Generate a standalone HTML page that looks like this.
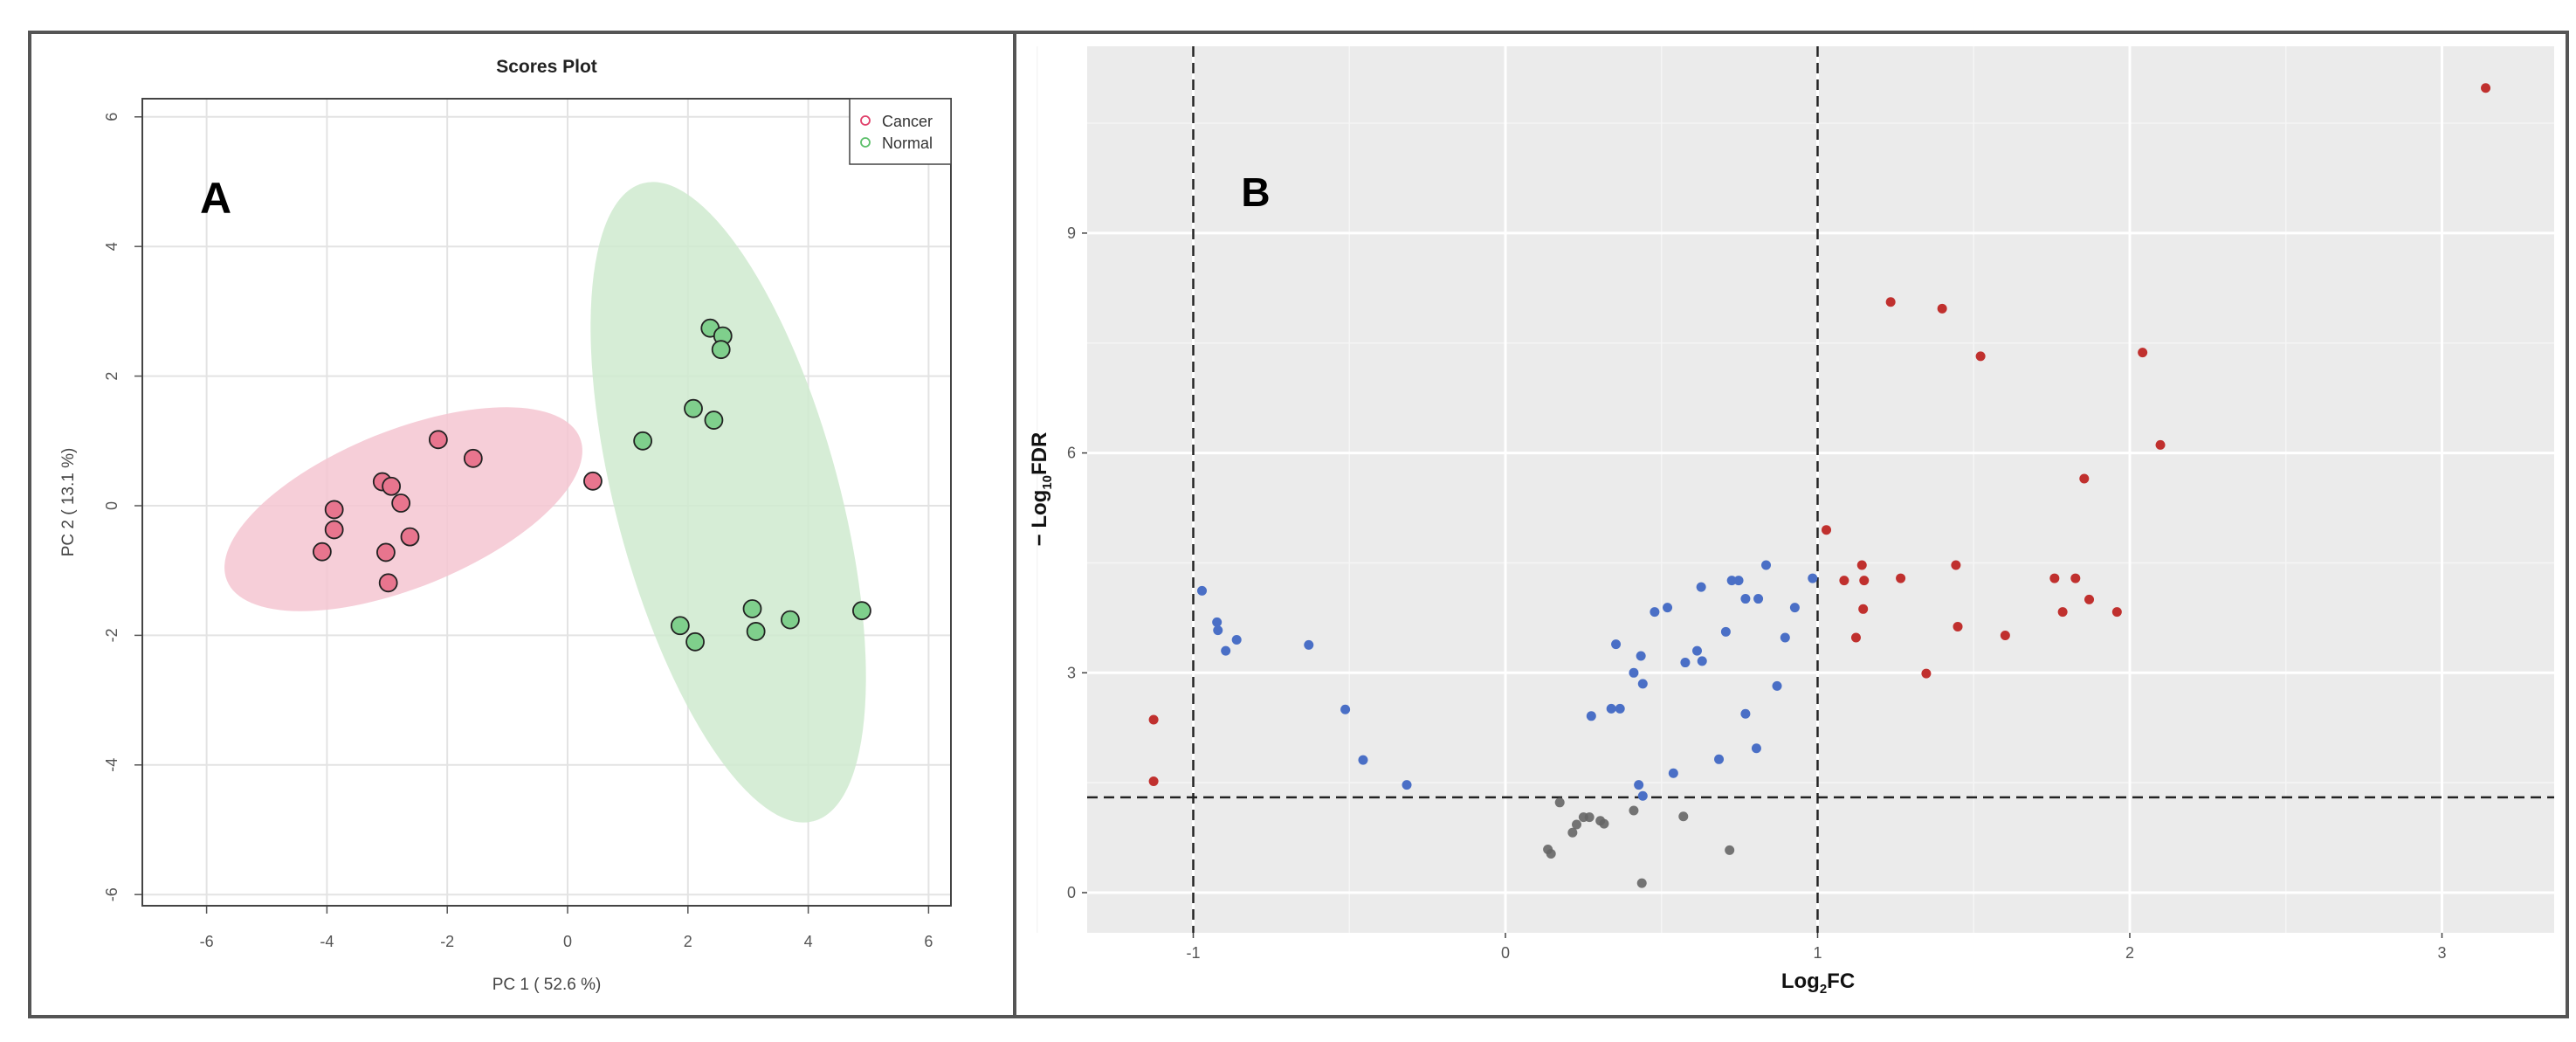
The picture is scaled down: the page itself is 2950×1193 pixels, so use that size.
<!DOCTYPE html>
<html><head><meta charset="utf-8"><style>
html,body{margin:0;padding:0;background:#fff;}
svg{display:block;font-family:"Liberation Sans",sans-serif;}
</style></head><body>
<svg id="fig" width="2950" height="1193" viewBox="0 0 2950 1193" xmlns="http://www.w3.org/2000/svg">
<rect x="0" y="0" width="2950" height="1193" fill="#fff"/>
<g id="left"></g>
<g id="right"></g>
<rect x="34" y="37" width="2906" height="1127" fill="none" stroke="#555" stroke-width="4"/>
<line x1="1162" y1="37" x2="1162" y2="1164" stroke="#555" stroke-width="4"/>
</svg>
<script>
// ---------- Panel A data ----------
const pcaTicks = [-6,-4,-2,0,2,4,6];
const cancerPC1 = [-2.15,-1.57,-3.08,-2.93,-2.77,-3.88,-3.88,-4.08,-2.62,-3.02,-2.98,0.42];
const cancerPC2 = [1.02,0.73,0.37,0.30,0.04,-0.06,-0.37,-0.71,-0.48,-0.72,-1.19,0.38];
const normalPC1 = [2.37,2.58,2.55,2.09,2.43,1.25,3.07,1.87,2.12,3.13,3.70,4.89];
const normalPC2 = [2.74,2.62,2.41,1.50,1.32,1.00,-1.59,-1.85,-2.10,-1.94,-1.76,-1.62];
// ---------- Panel B data ----------
const volXTicks = [-1,0,1,2,3];
const volYTicks = [0,3,6,9];
const upFC  = [3.14,1.234,1.399,1.522,2.041,2.098,1.854,1.028,1.085,1.142,1.149,1.146,1.266,1.443,1.449,1.123,1.348,1.601,1.759,1.826,1.785,1.870,1.959,-1.127,-1.127];
const upFDR = [10.98,8.06,7.97,7.32,7.37,6.11,5.65,4.95,4.26,4.47,4.26,3.87,4.29,4.47,3.63,3.48,2.99,3.51,4.29,4.29,3.83,4.00,3.83,2.36,1.52];
const midFC  = [-0.972,-0.924,-0.921,-0.896,-0.861,-0.630,-0.513,-0.456,-0.316,0.275,0.339,0.367,0.354,0.411,0.434,0.440,0.427,0.440,0.478,0.519,0.538,0.576,0.614,0.627,0.630,0.684,0.706,0.725,0.747,0.769,0.769,0.804,0.810,0.835,0.870,0.896,0.927,0.984];
const midFDR = [4.12,3.69,3.58,3.30,3.45,3.38,2.50,1.81,1.47,2.41,2.51,2.51,3.39,3.00,3.23,2.85,1.47,1.32,3.83,3.89,1.63,3.14,3.30,4.17,3.16,1.82,3.56,4.26,4.26,2.44,4.01,1.97,4.01,4.47,2.82,3.48,3.89,4.29];
const nsFC  = [0.174,0.228,0.215,0.25,0.269,0.304,0.316,0.136,0.146,0.411,0.570,0.718,0.437];
const nsFDR = [1.23,0.93,0.82,1.03,1.03,0.98,0.94,0.59,0.53,1.12,1.04,0.58,0.13];
const fcCut = [-1,1];
const fdrCut = 1.3;

const NS="http://www.w3.org/2000/svg";
function mk(parent,tag,attrs,text){const e=document.createElementNS(NS,tag);for(const k in attrs)e.setAttribute(k,attrs[k]);if(text!==undefined)e.textContent=text;parent.appendChild(e);return e;}

// ---------- Panel A ----------
const L=document.getElementById('left');
const ax=v=>650+68.9*v, ay=v=>579-74.2*v;
let e;
e=mk(L,'text',{x:626,y:83,'text-anchor':'middle','font-size':21,'font-weight':'bold',fill:'#222'},'Scores Plot');


pcaTicks.forEach(t=>{
  e=mk(L,'line',{x1:ax(t),y1:113,x2:ax(t),y2:1037,stroke:'#e3e3e3','stroke-width':2});
  
  
  e=mk(L,'line',{x1:163,y1:ay(t),x2:1089,y2:ay(t),stroke:'#e3e3e3','stroke-width':2});
  
  
  e=mk(L,'line',{x1:ax(t),y1:1037,x2:ax(t),y2:1046,stroke:'#555','stroke-width':1.5});
  
  
  e=mk(L,'text',{x:ax(t),y:1084,'text-anchor':'middle','font-size':18,fill:'#555'},String(t));
  
  
  e=mk(L,'line',{x1:154,y1:ay(t),x2:163,y2:ay(t),stroke:'#555','stroke-width':1.5});
  
  
  e=mk(L,'text',{x:0,y:0,'text-anchor':'middle','font-size':18,fill:'#555',transform:`translate(134,${ay(t)}) rotate(-90)`},String(t));
  
  
});
e=mk(L,'ellipse',{cx:462,cy:583,rx:218,ry:90,fill:'#f5c6d1',opacity:0.85,transform:'rotate(-22 462 583)'});


e=mk(L,'ellipse',{cx:834,cy:575,rx:128,ry:378,fill:'#cfeacf',opacity:0.85,transform:'rotate(-15 834 575)'});


e=mk(L,'rect',{x:163,y:113,width:926,height:924,fill:'none',stroke:'#444','stroke-width':2});


cancerPC1.forEach((v,i)=>{
  e=mk(L,'circle',{cx:ax(v),cy:ay(cancerPC2[i]),r:10,fill:'#e8758e',stroke:'#222','stroke-width':1.8});
  
  
});
normalPC1.forEach((v,i)=>{
  e=mk(L,'circle',{cx:ax(v),cy:ay(normalPC2[i]),r:10,fill:'#7fcf8c',stroke:'#222','stroke-width':1.8});
  
  
});
e=mk(L,'rect',{x:973,y:113,width:116,height:75,fill:'#fff',stroke:'#444','stroke-width':1.5});


e=mk(L,'circle',{cx:991,cy:138,r:5,fill:'none',stroke:'#e0406a','stroke-width':1.8});


e=mk(L,'text',{x:1010,y:145,'font-size':18,fill:'#333'},'Cancer');


e=mk(L,'circle',{cx:991,cy:163,r:5,fill:'none',stroke:'#5cbf6a','stroke-width':1.8});


e=mk(L,'text',{x:1010,y:170,'font-size':18,fill:'#333'},'Normal');


e=mk(L,'text',{x:626,y:1133,'text-anchor':'middle','font-size':19,fill:'#444'},'PC 1 ( 52.6 %)');


e=mk(L,'text',{x:0,y:0,'text-anchor':'middle','font-size':19,fill:'#444',transform:'translate(84,575) rotate(-90)'},'PC 2 ( 13.1 %)');


e=mk(L,'text',{x:247,y:244,'text-anchor':'middle','font-size':50,'font-weight':'bold',fill:'#000'},'A');



// ---------- Panel B ----------
const R=document.getElementById('right');
const bx=v=>1724+357.5*v, by=v=>1022-83.9*v;
e=mk(R,'rect',{x:1245,y:53,width:1680,height:1015,fill:'#ebebeb'});


[-1.5,-0.5,0.5,1.5,2.5].forEach(t=>{
  e=mk(R,'line',{x1:bx(t),y1:53,x2:bx(t),y2:1068,stroke:'#f5f5f5','stroke-width':1.5});
  
  
});
[1.5,4.5,7.5,10.5].forEach(t=>{
  e=mk(R,'line',{x1:1245,y1:by(t),x2:2925,y2:by(t),stroke:'#f5f5f5','stroke-width':1.5});
  
  
});
volXTicks.forEach(t=>{
  e=mk(R,'line',{x1:bx(t),y1:53,x2:bx(t),y2:1068,stroke:'#fff','stroke-width':3});
  
  
  e=mk(R,'line',{x1:bx(t),y1:1068,x2:bx(t),y2:1074,stroke:'#444','stroke-width':1.5});
  
  
  e=mk(R,'text',{x:bx(t),y:1097,'text-anchor':'middle','font-size':18,fill:'#555'},String(t));
  
  
});
volYTicks.forEach(t=>{
  e=mk(R,'line',{x1:1245,y1:by(t),x2:2925,y2:by(t),stroke:'#fff','stroke-width':3});
  
  
  e=mk(R,'line',{x1:1239,y1:by(t),x2:1245,y2:by(t),stroke:'#444','stroke-width':1.5});
  
  
  e=mk(R,'text',{x:1232,y:by(t)+6,'text-anchor':'end','font-size':18,fill:'#555'},String(t));
  
  
});
fcCut.forEach(c=>{
  e=mk(R,'line',{x1:bx(c),y1:53,x2:bx(c),y2:1068,stroke:'#222','stroke-width':2.5,'stroke-dasharray':'12,7'});
  
  
});
e=mk(R,'line',{x1:1245,y1:by(fdrCut),x2:2925,y2:by(fdrCut),stroke:'#222','stroke-width':2.5,'stroke-dasharray':'12,7'});


nsFC.forEach((v,i)=>{
  e=mk(R,'circle',{cx:bx(v),cy:by(nsFDR[i]),r:5.5,fill:'#666',opacity:0.9});
  
  
});
midFC.forEach((v,i)=>{
  e=mk(R,'circle',{cx:bx(v),cy:by(midFDR[i]),r:5.5,fill:'#4a6fc6'});
  
  
});
upFC.forEach((v,i)=>{
  e=mk(R,'circle',{cx:bx(v),cy:by(upFDR[i]),r:5.5,fill:'#c0302e'});
  
  
});
e=mk(R,'text',{x:1438,y:236,'text-anchor':'middle','font-size':46,'font-weight':'bold',fill:'#000'},'B');


e=mk(R,'text',{x:2082,y:1131,'text-anchor':'middle','font-size':24,'font-weight':'bold',fill:'#111'});


e.innerHTML='Log<tspan font-size="15" dy="6">2</tspan><tspan dy="-6">FC</tspan>';
e=mk(R,'text',{x:0,y:0,'text-anchor':'middle','font-size':24,'font-weight':'bold',fill:'#111',transform:'translate(1198,560) rotate(-90)'});


e.innerHTML='\u2212 Log<tspan font-size="15" dy="6">10</tspan><tspan dy="-6">FDR</tspan>';
</script>
</body></html>
